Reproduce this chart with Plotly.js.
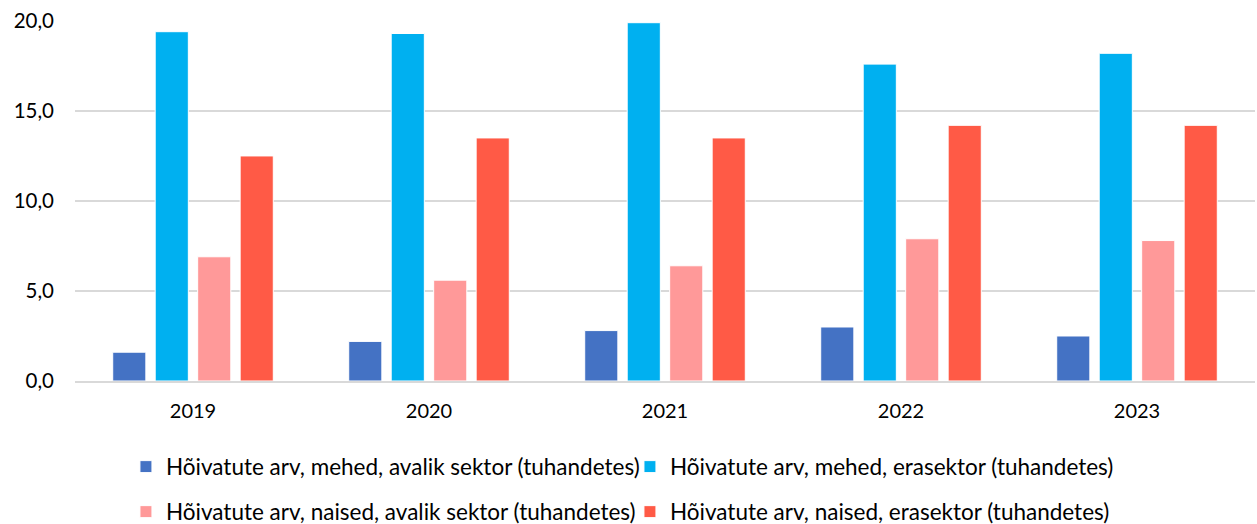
<!DOCTYPE html>
<html><head><meta charset="utf-8">
<script src="https://cdn.plot.ly/plotly-3.0.1.min.js"></script>
<style>html,body{margin:0;padding:0;background:#fff;}#chart{width:1257px;height:524px;}</style>
</head><body><div id="chart"></div>
<script>
const years = ['2019', '2020', '2021', '2022', '2023'];
const seriesNames = [
  'Hõivatute arv, mehed, avalik sektor (tuhandetes)',
  'Hõivatute arv, mehed, erasektor (tuhandetes)',
  'Hõivatute arv, naised, avalik sektor (tuhandetes)',
  'Hõivatute arv, naised, erasektor (tuhandetes)'
];
const menPublic = [1.6, 2.2, 2.8, 3.0, 2.5];
const menPrivate = [19.4, 19.3, 19.9, 17.6, 18.2];
const womenPublic = [6.9, 5.6, 6.4, 7.9, 7.8];
const womenPrivate = [12.5, 13.5, 13.5, 14.2, 14.2];
const yTicks = [0, 5, 10, 15, 20];

const colors = ['#4472C4', '#00B0F0', '#FF9999', '#FF5A46'];
const vals = [menPublic, menPrivate, womenPublic, womenPrivate];
const legends = ['legend', 'legend', 'legend2', 'legend2'];

const data = vals.map((v, i) => ({
  type: 'bar', x: years, y: v, name: seriesNames[i],
  marker: {color: colors[i], line: {color: '#ffffff', width: 1}},
  legend: legends[i], hoverinfo: 'x+y'
}));

const fontFam = 'Lato, "Liberation Sans", sans-serif';
const legBase = {
  orientation: 'h', xref: 'container', xanchor: 'left', yref: 'container', yanchor: 'middle',
  font: {family: fontFam, size: 22.5, color: '#000'},
  entrywidth: 459, entrywidthmode: 'pixels', itemwidth: 30,
  bgcolor: 'rgba(0,0,0,0)', traceorder: 'normal'
};

const layout = {
  width: 1257, height: 524,
  margin: {l: 75, r: 2, t: 20, b: 143, autoexpand: false},
  paper_bgcolor: '#fff', plot_bgcolor: '#fff',
  font: {family: fontFam, size: 20, color: '#000'},
  separators: ', ',
  barmode: 'group', bargap: 0.28, bargroupgap: 0.22,
  showlegend: true,
  xaxis: {type: 'category', showgrid: false, showline: true, linecolor: '#d9d9d9', linewidth: 1.5,
          ticks: '', ticklabelstandoff: 11, tickfont: {family: fontFam, size: 20, color: '#000'}, fixedrange: true},
  yaxis: {range: [0, 20.05], tickvals: yTicks, tickformat: '.1f', showgrid: true, gridcolor: '#d9d9d9', gridwidth: 1.5,
          zeroline: false, ticks: '', ticklabelstandoff: 20, tickfont: {family: fontFam, size: 20.5, color: '#000'}, fixedrange: true},
  legend: Object.assign({}, legBase, {x: 0.1002, y: 0.1088}),
  legend2: Object.assign({}, legBase, {x: 0.1002, y: 0.0229})
};

Plotly.newPlot('chart', data, layout, {displayModeBar: false, staticPlot: true});
</script></body></html>
